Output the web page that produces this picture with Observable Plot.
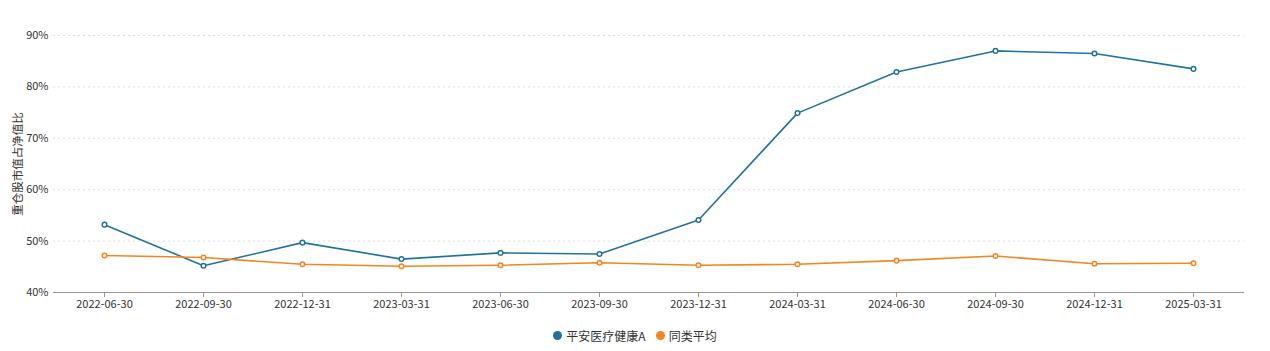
<!DOCTYPE html>
<html><head><meta charset="utf-8">
<script src="https://cdn.jsdelivr.net/npm/d3@7"></script>
<script src="https://cdn.jsdelivr.net/npm/@observablehq/plot@0.6"></script>
<style>
body{margin:0;background:#fff;font-family:"Noto Sans CJK SC","Noto Sans",sans-serif;}
#legend{display:flex;justify-content:center;gap:10px;font-size:12px;color:#333;height:24px;align-items:center;margin-top:3px;}
#legend span.item{display:flex;align-items:center;gap:4px;}
#legend span.dot{width:9px;height:9px;border-radius:50%;display:inline-block;}
</style></head>
<body>
<div id="chart"></div>
<div id="legend"></div>
<script>
const dates = ["2022-06-30","2022-09-30","2022-12-31","2023-03-31","2023-06-30","2023-09-30","2023-12-31","2024-03-31","2024-06-30","2024-09-30","2024-12-31","2025-03-31"];
const fundValues = [53.2,45.2,49.7,46.5,47.7,47.5,54.1,74.9,82.9,87.0,86.5,83.5];
const avgValues = [47.2,46.8,45.5,45.1,45.3,45.8,45.3,45.5,46.2,47.1,45.6,45.7];
const seriesNames = ["平安医疗健康A","同类平均"];
const colors = ["#21739f","#f5851f"];
const yTicks = [40,50,60,70,80,90];

const data = [];
dates.forEach((d,i)=>{
  data.push({date:d, value:fundValues[i], series:seriesNames[0]});
  data.push({date:d, value:avgValues[i], series:seriesNames[1]});
});

const chart = Plot.plot({
  width:1270, height:320,
  marginLeft:53, marginRight:26, marginTop:35, marginBottom:28,
  style:{fontFamily:"'Noto Sans CJK SC','Noto Sans',sans-serif", fontSize:"11px", color:"#333"},
  x:{type:"point", domain:dates, padding:0.48, label:null},
  y:{domain:[40,90], label:null},
  color:{domain:seriesNames, range:colors},
  marks:[
    Plot.gridY(yTicks,{stroke:"#ddd", strokeOpacity:1, strokeDasharray:"2,3"}),
    Plot.ruleY([40],{stroke:"#999"}),
    Plot.axisX({tickSize:5, stroke:"#999", tickPadding:3, fill:"#333"}),
    Plot.axisY(yTicks,{tickSize:0, tickPadding:5, tickFormat:d=>d+"%", fill:"#333"}),
    Plot.text(["重仓股市值占净值比"],{frameAnchor:"left", textAnchor:"middle", dx:-35, rotate:-90, fill:"#333", fontSize:11.5}),
    Plot.line(data,{x:"date", y:"value", stroke:"series", strokeWidth:1.6}),
    Plot.dot(data,{x:"date", y:"value", stroke:"series", fill:"white", r:2.3, strokeWidth:1.5})
  ]
});
document.getElementById("chart").appendChild(chart);

const lg = document.getElementById("legend");
seriesNames.forEach((n,i)=>{
  const s=document.createElement("span"); s.className="item";
  s.innerHTML=`<span class="dot" style="background:${colors[i]}"></span>${n}`;
  lg.appendChild(s);
});
</script>
</body></html>
